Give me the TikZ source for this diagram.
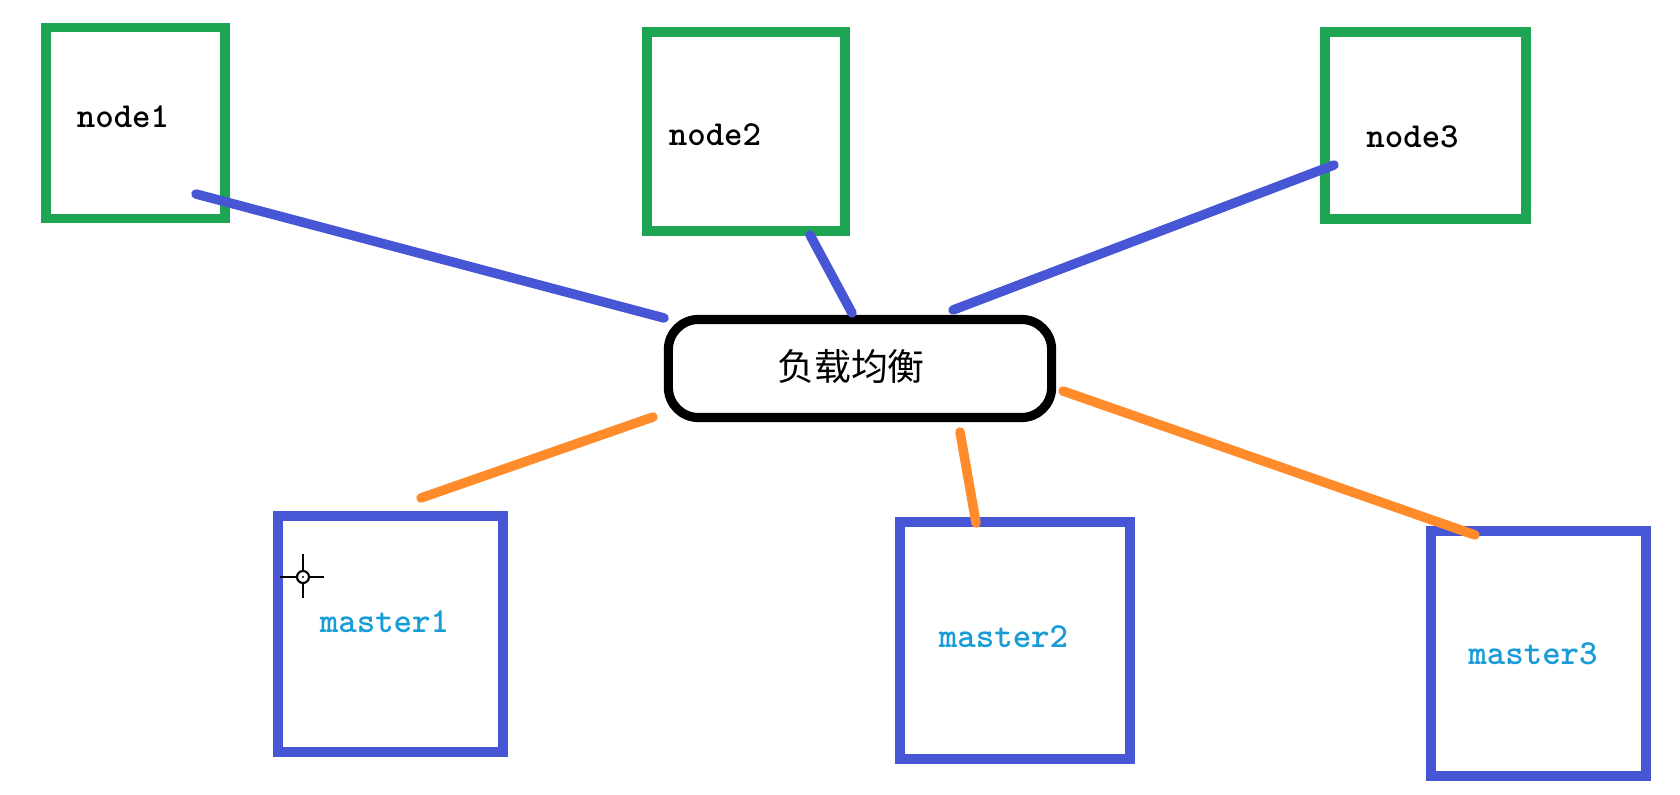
\documentclass[tikz,border=0pt]{standalone}
\usepackage{fontspec}
\newfontfamily\cjk{Noto Sans CJK SC}
\definecolor{boxgreen}{RGB}{29,165,84}
\definecolor{boxblue}{RGB}{70,86,212}
\definecolor{wireorange}{RGB}{255,139,42}
\definecolor{labelcyan}{RGB}{24,156,216}

\begin{document}
\begin{tikzpicture}[x=0.01cm,y=-0.01cm,
  nodebox/.style={draw=boxgreen,line width=2.8pt,inner sep=0pt},
  masterbox/.style={draw=boxblue,line width=2.8pt,inner sep=0pt},
  nodetext/.style={font=\ttfamily\bfseries\fontsize{10}{12}\selectfont,anchor=base,inner sep=0pt},
  mastertext/.style={nodetext,text=labelcyan},
  bluewire/.style={draw=boxblue,line width=2.7pt,line cap=round},
  orangewire/.style={draw=wireorange,line width=2.7pt,line cap=round}]
\fill[white] (0,0) rectangle (1680,794);
\useasboundingbox (0,0) rectangle (1680,794);

\node[nodebox,minimum width=1.79cm,minimum height=1.91cm] (node1) at (135.5,123) {};
\node[nodebox,minimum width=1.98cm,minimum height=1.99cm] (node2) at (746,131.5) {};
\node[nodebox,minimum width=2.01cm,minimum height=1.87cm] (node3) at (1425.5,125.5) {};
\node[draw,line width=2.6pt,rounded corners=0.3cm,minimum width=3.83cm,minimum height=0.98cm,inner sep=0pt] (lb) at (860,368.5) {};
\node[masterbox,minimum width=2.25cm,minimum height=2.36cm] (master1) at (390.5,634) {};
\node[masterbox,minimum width=2.30cm,minimum height=2.37cm] (master2) at (1015,640.5) {};
\node[masterbox,minimum width=2.15cm,minimum height=2.45cm] (master3) at (1538.5,653.5) {};

\node[nodetext] (node1-label) at (123,128) {node1};
\node[nodetext] (node2-label) at (715,146) {node2};
\node[nodetext] (node3-label) at (1412.5,147) {node3};
\node[font=\cjk\fontsize{10.5}{12}\selectfont] (lb-label) at (851,366) {负载均衡};
\node[mastertext] (master1-label) at (384.5,632) {master1};
\node[mastertext] (master2-label) at (1003.5,647) {master2};
\node[mastertext] (master3-label) at (1533,664) {master3};

\coordinate (node1-end) at (196,194);
\coordinate (lb-node1) at (664,318);
\coordinate (node2-end) at (810,235);
\coordinate (lb-node2) at (852,313);
\coordinate (node3-end) at (1334,165);
\coordinate (lb-node3) at (953,310);
\coordinate (lb-master1) at (653,417);
\coordinate (master1-end) at (421,498);
\coordinate (lb-master2) at (960,432);
\coordinate (master2-end) at (976,523);
\coordinate (lb-master3) at (1063,391);
\coordinate (master3-end) at (1475,535);

\draw[bluewire] (node1-end) -- (lb-node1);
\draw[bluewire] (node2-end) -- (lb-node2);
\draw[bluewire] (node3-end) -- (lb-node3);
\draw[orangewire] (lb-master1) -- (master1-end);
\draw[orangewire] (lb-master2) -- (master2-end);
\draw[orangewire] (lb-master3) -- (master3-end);

\draw[line width=0.6pt] (280,577) -- (297,577) (309,577) -- (324,577) (303,554) -- (303,571) (303,583) -- (303,598);
\draw[line width=0.6pt] (303,577) circle[radius=0.06cm];
\fill (303,577) circle[radius=0.012cm];
\end{tikzpicture}
\end{document}
